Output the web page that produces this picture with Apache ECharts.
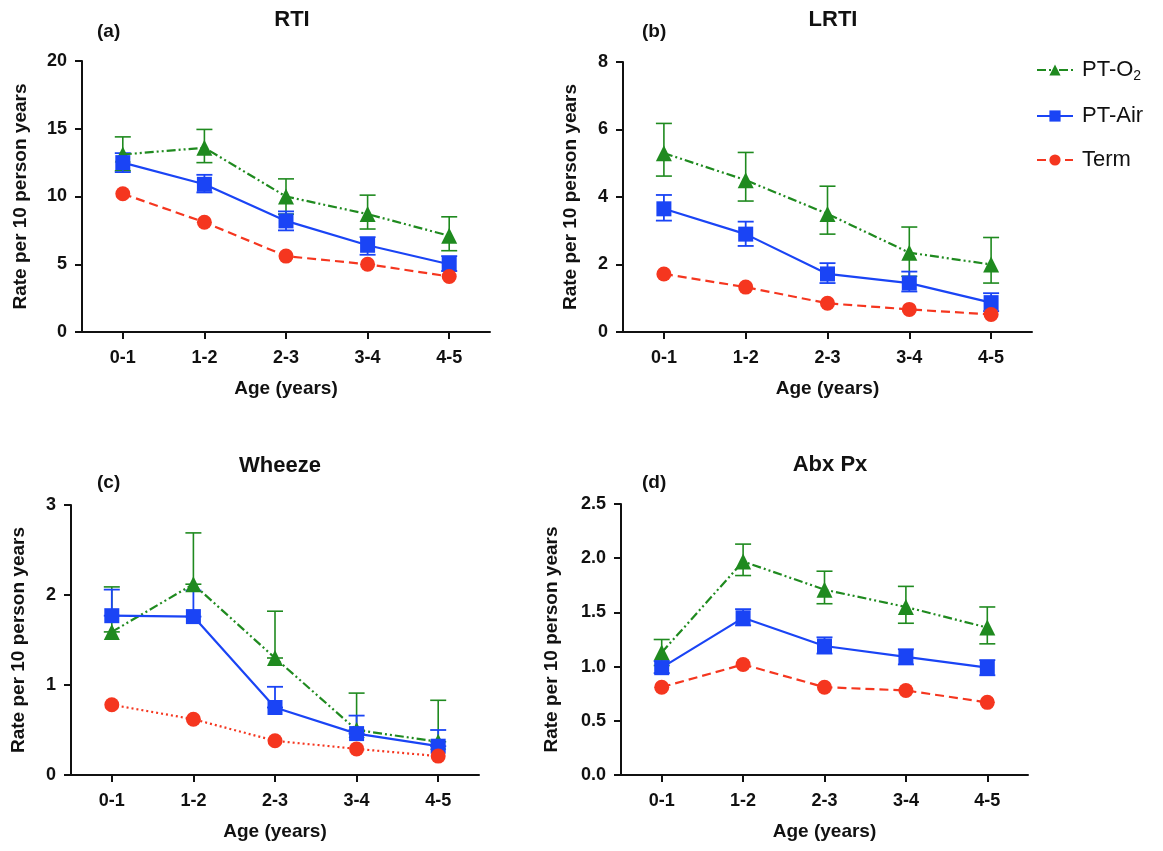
<!DOCTYPE html>
<html>
<head>
<meta charset="utf-8">
<script src="https://cdn.jsdelivr.net/npm/echarts@6/dist/echarts.min.js"></script>
<style>
  html, body { margin: 0; padding: 0; background: #fff; }
  #chart { width: 1163px; height: 851px; }
</style>
</head>
<body>
<div id="chart"></div>
<script>
// categories
const ages = ['0-1', '1-2', '2-3', '3-4', '4-5']

// (a) RTI
const rtiO2 = [13.1, 13.6, 10.0, 8.7, 7.1]
const rtiO2Low = [11.9, 12.5, 8.7, 7.6, 6.0]
const rtiO2High = [14.4, 14.95, 11.3, 10.1, 8.5]
const rtiAir = [12.5, 10.9, 8.2, 6.4, 5.0]
const rtiAirLow = [11.8, 10.3, 7.5, 5.7, 4.5]
const rtiAirHigh = [13.2, 11.6, 8.9, 7.0, 5.6]
const rtiTerm = [10.2, 8.1, 5.6, 5.0, 4.1]

// (b) LRTI
const lrtiO2 = [5.3, 4.5, 3.5, 2.35, 2.0]
const lrtiO2Low = [4.62, 3.88, 2.9, 1.65, 1.45]
const lrtiO2High = [6.18, 5.32, 4.32, 3.11, 2.8]
const lrtiAir = [3.65, 2.9, 1.72, 1.45, 0.87]
const lrtiAirLow = [3.3, 2.55, 1.45, 1.2, 0.62]
const lrtiAirHigh = [4.06, 3.27, 2.04, 1.79, 1.15]
const lrtiTerm = [1.72, 1.33, 0.85, 0.67, 0.52]

// (c) Wheeze (upper error bars only)
const whO2 = [1.59, 2.12, 1.30, 0.5, 0.37]
const whO2High = [2.09, 2.69, 1.82, 0.91, 0.83]
const whAir = [1.77, 1.76, 0.75, 0.46, 0.32]
const whAirHigh = [2.06, 2.05, 0.98, 0.66, 0.5]
const whTerm = [0.78, 0.62, 0.38, 0.29, 0.21]

// (d) Abx Px
const abxO2 = [1.13, 1.97, 1.71, 1.55, 1.36]
const abxO2Low = [1.01, 1.84, 1.58, 1.40, 1.21]
const abxO2High = [1.25, 2.13, 1.88, 1.74, 1.55]
const abxAir = [0.99, 1.45, 1.19, 1.09, 0.99]
const abxAirLow = [0.94, 1.38, 1.12, 1.02, 0.92]
const abxAirHigh = [1.05, 1.53, 1.27, 1.16, 1.06]
const abxTerm = [0.81, 1.02, 0.81, 0.78, 0.67]

const GREEN = '#1f8a1f'
const BLUE = '#1a44f5'
const RED = '#f5361f'
const FONT = '"Liberation Sans", Arial, Helvetica, sans-serif'

const panels = [
  { title: 'RTI', letter: '(a)', grid: { left: 82, top: 61, width: 408, height: 271 }, max: 20, interval: 5, digits: 0, nameGap: 52,
    titlePos: [287, 4], letterPos: [92, 17],
    o2: rtiO2, o2Low: rtiO2Low, o2High: rtiO2High, air: rtiAir, airLow: rtiAirLow, airHigh: rtiAirHigh, term: rtiTerm, termDash: [9, 5] },
  { title: 'LRTI', letter: '(b)', grid: { left: 623, top: 62, width: 409, height: 270 }, max: 8, interval: 2, digits: 0, nameGap: 43,
    titlePos: [828, 4], letterPos: [637, 17],
    o2: lrtiO2, o2Low: lrtiO2Low, o2High: lrtiO2High, air: lrtiAir, airLow: lrtiAirLow, airHigh: lrtiAirHigh, term: lrtiTerm, termDash: [9, 5] },
  { title: 'Wheeze', letter: '(c)', grid: { left: 71, top: 505, width: 408, height: 270 }, max: 3, interval: 1, digits: 0, nameGap: 43,
    titlePos: [275, 450], letterPos: [92, 468],
    o2: whO2, o2Low: whO2, o2High: whO2High, air: whAir, airLow: whAir, airHigh: whAirHigh, term: whTerm, termDash: [2, 3] },
  { title: 'Abx Px', letter: '(d)', grid: { left: 621, top: 504, width: 407, height: 271 }, max: 2.5, interval: 0.5, digits: 1, nameGap: 60,
    titlePos: [825, 449], letterPos: [637, 468],
    o2: abxO2, o2Low: abxO2Low, o2High: abxO2High, air: abxAir, airLow: abxAirLow, airHigh: abxAirHigh, term: abxTerm, termDash: [9, 5] }
]

// error bar drawn through the axes' own coordinate system
function errorBar(color, width, cap) {
  return function (params, api) {
    const x = api.value(0)
    const lo = api.coord([x, api.value(1)])
    const hi = api.coord([x, api.value(2)])
    const style = { stroke: color, lineWidth: width }
    return {
      type: 'group',
      children: [
        { type: 'line', shape: { x1: lo[0], y1: lo[1], x2: hi[0], y2: hi[1] }, style: style },
        { type: 'line', shape: { x1: hi[0] - cap, y1: hi[1], x2: hi[0] + cap, y2: hi[1] }, style: style },
        { type: 'line', shape: { x1: lo[0] - cap, y1: lo[1], x2: lo[0] + cap, y2: lo[1] }, style: style }
      ]
    }
  }
}

const axisLine = { show: true, lineStyle: { color: '#111', width: 2 } }
const axisTick = { show: true, length: 7, lineStyle: { color: '#111', width: 2 } }

const option = {
  backgroundColor: '#fff',
  animation: false,
  textStyle: { fontFamily: FONT },
  title: [],
  grid: [],
  xAxis: [],
  yAxis: [],
  series: [],
  legend: {
    orient: 'vertical',
    left: 1031,
    top: 54,
    itemGap: 22,
    itemWidth: 36,
    itemHeight: 14,
    data: ['PT-O2', 'PT-Air', 'Term'],
    formatter: function (name) {
      return name === 'PT-O2' ? 'PT-O{s|2}' : name
    },
    textStyle: {
      fontFamily: FONT,
      fontSize: 22,
      color: '#111',
      padding: [0, 0, 0, 4],
      rich: { s: { fontFamily: FONT, fontSize: 14, color: '#111', padding: [12, 0, 0, 0] } }
    }
  }
}

panels.forEach((p, i) => {
  option.title.push({
    text: p.title, left: p.titlePos[0], top: p.titlePos[1], textAlign: 'center',
    textStyle: { fontFamily: FONT, fontSize: 22, fontWeight: 'bold', color: '#111' }
  })
  option.title.push({
    text: p.letter, left: p.letterPos[0], top: p.letterPos[1],
    textStyle: { fontFamily: FONT, fontSize: 19, fontWeight: 'bold', color: '#111' }
  })
  option.grid.push(p.grid)
  option.xAxis.push({
    type: 'category',
    gridIndex: i,
    data: ages,
    boundaryGap: true,
    axisLine: axisLine,
    axisTick: Object.assign({ alignWithLabel: true, interval: 0 }, axisTick),
    axisLabel: { interval: 0, margin: 17, color: '#111', fontSize: 18, fontWeight: 'bold', fontFamily: FONT },
    splitLine: { show: false },
    name: 'Age (years)',
    nameLocation: 'middle',
    nameGap: 47,
    nameTextStyle: { color: '#111', fontSize: 19, fontWeight: 'bold', fontFamily: FONT }
  })
  option.yAxis.push({
    type: 'value',
    gridIndex: i,
    min: 0,
    max: p.max,
    interval: p.interval,
    axisLine: axisLine,
    axisTick: axisTick,
    axisLabel: {
      margin: 15, color: '#111', fontSize: 18, fontWeight: 'bold', fontFamily: FONT,
      formatter: v => v.toFixed(p.digits)
    },
    splitLine: { show: false },
    name: 'Rate per 10 person years',
    nameLocation: 'middle',
    nameGap: p.nameGap,
    nameTextStyle: { color: '#111', fontSize: 19, fontWeight: 'bold', fontFamily: FONT }
  })

  const o2Err = ages.map((a, k) => [k, p.o2Low[k], p.o2High[k]])
  const airErr = ages.map((a, k) => [k, p.airLow[k], p.airHigh[k]])

  option.series.push(
    { type: 'custom', xAxisIndex: i, yAxisIndex: i, z: 2, silent: true,
      renderItem: errorBar(GREEN, 1.6, 8), data: o2Err },
    { type: 'custom', xAxisIndex: i, yAxisIndex: i, z: 2, silent: true,
      renderItem: errorBar(BLUE, 1.8, 8), data: airErr },
    { name: 'PT-O2', type: 'line', xAxisIndex: i, yAxisIndex: i, z: 3, data: p.o2,
      symbol: 'triangle', symbolSize: 16, itemStyle: { color: GREEN },
      lineStyle: { color: GREEN, width: 2.2, type: [9, 3, 2, 3, 2, 3] } },
    { name: 'PT-Air', type: 'line', xAxisIndex: i, yAxisIndex: i, z: 4, data: p.air,
      symbol: 'rect', symbolSize: 15, itemStyle: { color: BLUE },
      lineStyle: { color: BLUE, width: 2.2, type: 'solid' } },
    { name: 'Term', type: 'line', xAxisIndex: i, yAxisIndex: i, z: 5, data: p.term,
      symbol: 'circle', symbolSize: 15, itemStyle: { color: RED },
      lineStyle: { color: RED, width: 2.2, type: p.termDash } }
  )
})

const chart = echarts.init(document.getElementById('chart'))
chart.setOption(option)
</script>
</body>
</html>
